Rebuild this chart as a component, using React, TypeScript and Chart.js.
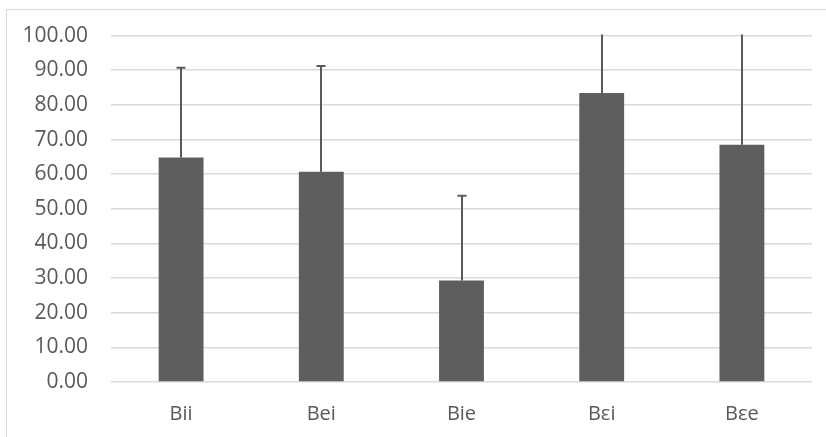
import React, { useEffect, useRef } from "react";
import { Chart, registerables } from "chart.js";

Chart.register(...registerables);

const categories = ["Bii", "Bei", "Bie", "Bεi", "Bεe"];
const means = [64.8, 60.7, 29.3, 83.4, 68.5];
const plusErrors = [25.9, 30.5, 24.5, 22.0, 38.0];
const yTicks = [0, 10, 20, 30, 40, 50, 60, 70, 80, 90, 100];

const errorBarPlugin = {
  id: "errorBars",
  afterDatasetsDraw(chart: any) {
    const { ctx, chartArea } = chart;
    const meta = chart.getDatasetMeta(0);
    const yScale = chart.scales.y;
    ctx.save();
    ctx.beginPath();
    ctx.rect(chartArea.left, chartArea.top - 1, chartArea.right - chartArea.left, chartArea.bottom - chartArea.top + 1);
    ctx.clip();
    ctx.strokeStyle = "#595959";
    ctx.lineWidth = 2;
    meta.data.forEach((bar: any, i: number) => {
      const x = Math.round(bar.x);
      const yTop = yScale.getPixelForValue(means[i] + plusErrors[i]);
      const yBase = bar.y;
      ctx.beginPath();
      ctx.moveTo(x, yBase);
      ctx.lineTo(x, yTop);
      ctx.stroke();
      if (yTop >= chartArea.top) {
        ctx.beginPath();
        ctx.moveTo(x - 4.5, yTop);
        ctx.lineTo(x + 4.5, yTop);
        ctx.stroke();
      }
    });
    ctx.restore();
  },
};

export default function App() {
  const ref = useRef<HTMLCanvasElement>(null);
  useEffect(() => {
    const chart = new Chart(ref.current!, {
      type: "bar",
      data: {
        labels: categories,
        datasets: [
          {
            data: means,
            backgroundColor: "#5e5e5e",
            borderWidth: 0,
            categoryPercentage: 1,
            barPercentage: 0.32,
          },
        ],
      },
      options: {
        responsive: false,
        animation: false,
        layout: { padding: { top: 35, right: 14, left: 0, bottom: 0 } },
        plugins: { legend: { display: false }, tooltip: { enabled: false } },
        scales: {
          x: {
            grid: { display: false, drawTicks: false },
            border: { display: false },
            ticks: {
              color: "#595959",
              font: { family: "'Open Sans', sans-serif", size: 20 },
              padding: 20,
            },
            afterFit(scale: any) {
              scale.height = 55;
            },
          },
          y: {
            min: 0,
            max: 100,
            afterBuildTicks(scale: any) {
              scale.ticks = yTicks.map((v) => ({ value: v }));
            },
            grid: { color: "#d9d9d9", lineWidth: 1.5, drawTicks: false },
            border: { display: false },
            ticks: {
              color: "#595959",
              font: { family: "'Open Sans', sans-serif", size: 21 },
              padding: 23,
              callback: (v: any) => Number(v).toFixed(2),
            },
            afterFit(scale: any) {
              scale.width = 111;
            },
          },
        },
      },
      plugins: [errorBarPlugin],
    });
    return () => chart.destroy();
  }, []);

  return (
    <div style={{ position: "fixed", left: 0, top: 0, width: 826, height: 437, overflow: "hidden", background: "#fff" }}>
      <div
        style={{
          position: "absolute",
          left: 6,
          top: 9,
          width: 840,
          height: 450,
          border: "1px solid #d9d9d9",
          boxSizing: "border-box",
        }}
      />
      <canvas ref={ref} width={826} height={437} style={{ position: "absolute", left: 0, top: 0, display: "block" }} />
    </div>
  );
}
